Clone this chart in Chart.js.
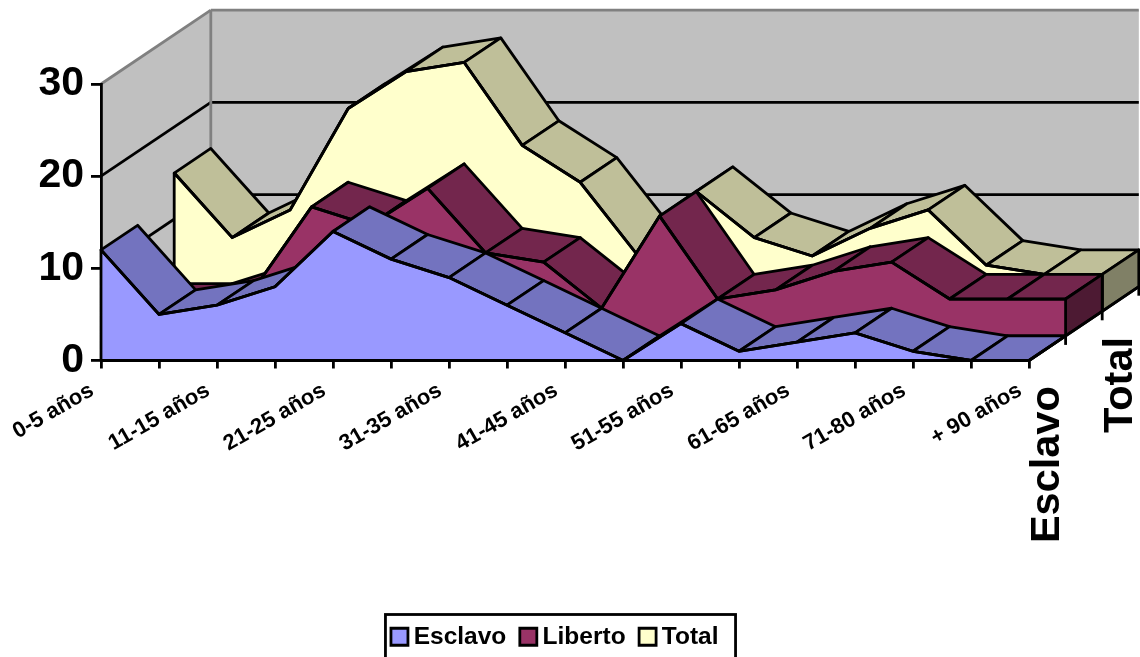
<!DOCTYPE html>
<html lang="es">
<head>
<meta charset="utf-8">
<title>Esclavo, Liberto, Total</title>
<script src="https://cdn.jsdelivr.net/npm/chart.js@4"></script>
<style>
    html, body { margin: 0; background: #fff; overflow: hidden; }
    canvas { display: block; }
</style>
</head>
<body>
<canvas id="grafico" width="1140" height="657"></canvas>
<script>
const categorias = ['0-5 años', '6-10 años', '11-15 años', '16-20 años', '21-25 años', '26-30 años',
    '31-35 años', '36-40 años', '41-45 años', '46-50 años', '51-55 años', '56-60 años',
    '61-65 años', '66-70 años', '71-80 años', '81-90 años', '+ 90 años'];
const esclavo = [12, 5, 6, 8, 14, 11, 9, 6, 3, 0, 4, 1, 2, 3, 1, 0, 0];
const liberto = [3, 3, 5, 14, 12, 16, 9, 8, 3, 13, 4, 5, 7, 8, 4, 4, 4];
const total = [15, 8, 11, 22, 26, 27, 18, 14, 6, 13, 8, 6, 9, 11, 5, 4, 4];
const ticksY = [0, 10, 20, 30];

// colores: cara frontal, cara superior, lateral
const colorFrente = ['#9999FF', '#993366', '#FFFFCC'];
const colorTope = ['#7373BF', '#73264D', '#BFBF99'];
const colorLado = ['#4D4D80', '#4D1A33', '#808066'];

// desplazamiento de cada serie en profundidad
const PROF_X = 36.6;
const PROF_Y = -24.6;
const NUM_SERIES = 3;
const GROSOR = 2.8;

function poligono(ctx, puntos, relleno) {
    ctx.beginPath();
    puntos.forEach((p, i) => i ? ctx.lineTo(p.x, p.y) : ctx.moveTo(p.x, p.y));
    ctx.closePath();
    if (relleno) {
        ctx.fillStyle = relleno;
        ctx.fill();
    }
    ctx.stroke();
}

function linea(ctx, x1, y1, x2, y2, color) {
    ctx.strokeStyle = color;
    ctx.beginPath();
    ctx.moveTo(x1, y1);
    ctx.lineTo(x2, y2);
    ctx.stroke();
}

const grafico3d = {
    id: 'grafico3d',

    // paredes y rejilla, debajo de los ejes
    beforeDraw(chart) {
        const { ctx, scales: { x, y } } = chart;
        const izq = x.getPixelForValue(0);
        const der = x.getPixelForValue(categorias.length - 1);
        const abajo = y.getPixelForValue(0);
        const arriba = y.getPixelForValue(30);
        const fx = PROF_X * NUM_SERIES;
        const fy = PROF_Y * NUM_SERIES;

        ctx.save();
        ctx.fillStyle = '#C0C0C0';
        ctx.beginPath();
        ctx.moveTo(izq, arriba);
        ctx.lineTo(izq + fx, arriba + fy);
        ctx.lineTo(der + fx, arriba + fy);
        ctx.lineTo(der + fx, abajo + fy);
        ctx.lineTo(der, abajo);
        ctx.lineTo(izq, abajo);
        ctx.closePath();
        ctx.fill();

        ctx.lineWidth = GROSOR;
        ticksY.slice(1, -1).forEach(v => {
            const py = y.getPixelForValue(v);
            linea(ctx, izq, py, izq + fx, py + fy, '#000');
            linea(ctx, izq + fx, py + fy, der + fx, py + fy, '#000');
        });
        linea(ctx, izq + fx, arriba + fy, izq + fx, abajo + fy, '#808080');
        linea(ctx, izq, arriba, izq + fx, arriba + fy, '#808080');
        linea(ctx, izq + fx, arriba + fy, der + fx, arriba + fy, '#808080');
        ctx.restore();
    },

    // mueve cada serie hacia el fondo
    afterDatasetsUpdate(chart) {
        chart.data.datasets.forEach((ds, i) => {
            chart.getDatasetMeta(i).data.forEach(p => {
                p.x += PROF_X * i;
                p.y += PROF_Y * i;
            });
        });
    },

    beforeDatasetDraw(chart, args) {
        const { ctx, scales: { y } } = chart;
        const i = args.index;
        const puntos = args.meta.data;
        const base = y.getPixelForValue(0) + PROF_Y * i;
        const atras = p => ({ x: p.x + PROF_X, y: p.y + PROF_Y });

        ctx.save();
        ctx.lineWidth = GROSOR;
        ctx.lineJoin = 'round';
        ctx.strokeStyle = '#000';

        // caras superiores, de izquierda a derecha
        for (let k = 0; k < puntos.length - 1; k++) {
            poligono(ctx, [puntos[k], puntos[k + 1], atras(puntos[k + 1]), atras(puntos[k])], colorTope[i]);
        }

        // lateral derecho
        const ultimo = puntos[puntos.length - 1];
        const pieUltimo = { x: ultimo.x, y: base };
        poligono(ctx, [ultimo, atras(ultimo), atras(pieUltimo), pieUltimo], colorLado[i]);

        // cara frontal
        poligono(ctx, [{ x: puntos[0].x, y: base }, ...puntos, pieUltimo], colorFrente[i]);
        ctx.restore();
    },

    afterDraw(chart) {
        const { ctx, legend, scales: { x, y } } = chart;
        const der = x.getPixelForValue(categorias.length - 1);
        const abajo = y.getPixelForValue(0);

        ctx.save();
        ctx.lineWidth = GROSOR;

        // eje de profundidad y sus marcas
        linea(ctx, der, abajo, der + PROF_X * NUM_SERIES, abajo + PROF_Y * NUM_SERIES, '#000');
        for (let i = 1; i <= NUM_SERIES; i++) {
            const px = der + PROF_X * i;
            const py = abajo + PROF_Y * i;
            linea(ctx, px, py, px, py + 9, '#000');
        }

        // etiquetas de profundidad, una de cada dos
        ctx.fillStyle = '#000';
        ctx.font = 'bold 41.5px "Liberation Sans"';
        ctx.textAlign = 'right';
        ctx.textBaseline = 'middle';
        [['Esclavo', 0], ['Total', 2]].forEach(([texto, i]) => {
            ctx.save();
            ctx.translate(der + PROF_X * (i + 0.5), abajo + PROF_Y * (i + 0.5) + 38);
            ctx.rotate(-Math.PI / 2);
            ctx.fillText(texto, 0, 0);
            ctx.restore();
        });

        // marco de la leyenda
        const cajas = legend.legendHitBoxes;
        const fin = cajas[cajas.length - 1];
        const izqMarco = cajas[0].left - 12;
        ctx.strokeStyle = '#000';
        ctx.strokeRect(izqMarco, legend.top + 10, fin.left + fin.width + 17 - izqMarco, 60);
        ctx.restore();
    }
};

new Chart(document.getElementById('grafico'), {
    type: 'line',
    data: {
        labels: categorias,
        datasets: [
            { label: 'Esclavo', data: esclavo, backgroundColor: colorFrente[0] },
            { label: 'Liberto', data: liberto, backgroundColor: colorFrente[1] },
            { label: 'Total', data: total, backgroundColor: colorFrente[2] }
        ].map(ds => ({ ...ds, borderColor: '#000', borderWidth: GROSOR, pointRadius: 0, pointStyle: 'rect', tension: 0, fill: false, clip: false }))
    },
    options: {
        responsive: false,
        animation: false,
        events: [],
        layout: { padding: { top: 84, right: 24, left: 0, bottom: -2 } },
        plugins: {
            tooltip: { enabled: false },
            legend: {
                position: 'bottom',
                labels: {
                    color: '#000',
                    font: { family: '"Liberation Sans"', size: 24.5, weight: 'bold' },
                    usePointStyle: true,
                    boxWidth: 4,
                    boxHeight: 17,
                    padding: 20
                }
            }
        },
        scales: {
            x: {
                type: 'category',
                offset: false,
                afterFit(s) { s.height = 244; s.paddingRight = 111; },
                border: { color: '#000', width: GROSOR },
                grid: { drawOnChartArea: false, color: '#000', lineWidth: GROSOR, tickLength: 8 },
                ticks: {
                    autoSkip: false,
                    minRotation: 30,
                    maxRotation: 30,
                    labelOffset: -9,
                    padding: 9,
                    color: '#000',
                    font: { family: '"Liberation Sans"', size: 22, weight: 'bold' },
                    callback: (v, i) => i % 2 ? '' : categorias[i]
                }
            },
            y: {
                min: 0,
                max: 30,
                afterFit(s) { s.width = 101; },
                afterBuildTicks(s) { s.ticks = ticksY.map(value => ({ value })); },
                border: { color: '#000', width: GROSOR },
                grid: { drawOnChartArea: false, color: '#000', lineWidth: GROSOR, tickLength: 10 },
                ticks: {
                    padding: 7,
                    color: '#000',
                    font: { family: '"Liberation Sans"', size: 41, weight: 'bold' }
                }
            }
        }
    },
    plugins: [grafico3d]
});
</script>
</body>
</html>
